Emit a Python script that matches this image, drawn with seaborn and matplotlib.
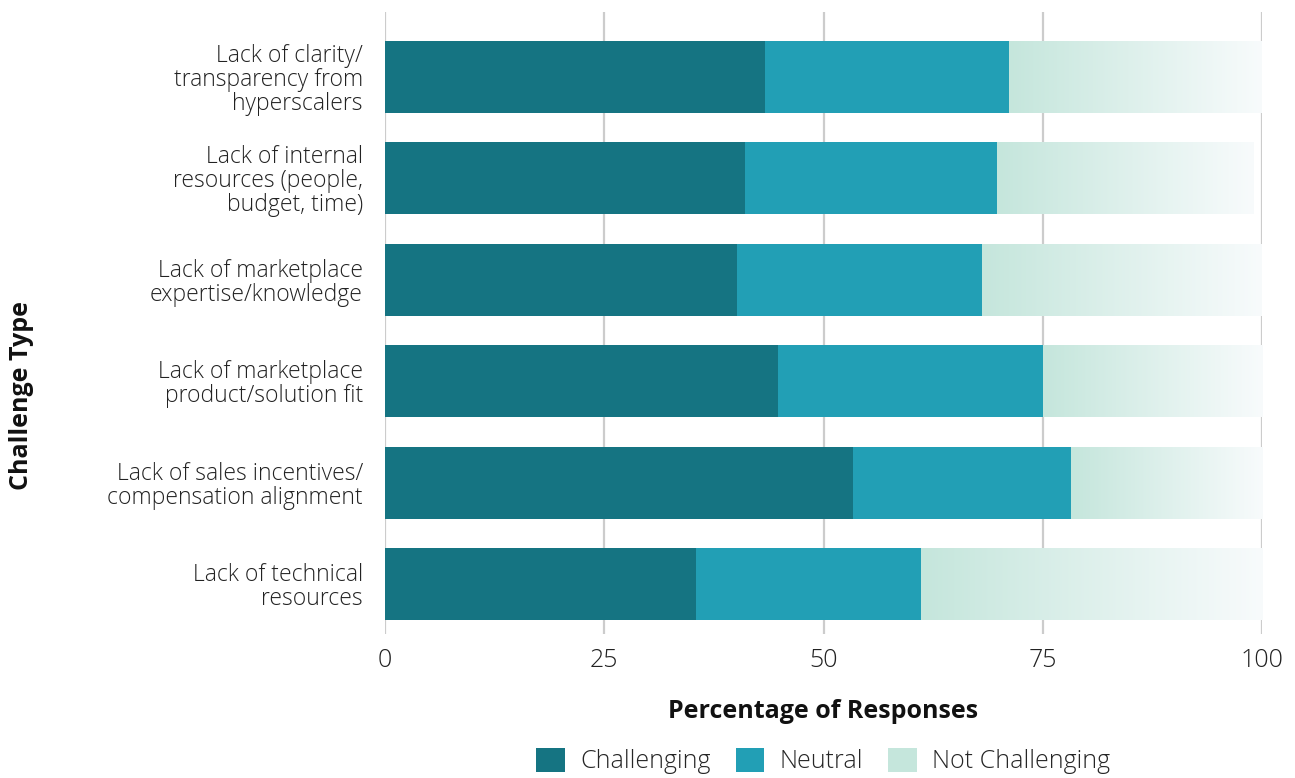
import numpy as np
import pandas as pd
import matplotlib
matplotlib.use("Agg")
import matplotlib.pyplot as plt
import seaborn as sns
from matplotlib.patches import Patch
from matplotlib.colors import LinearSegmentedColormap

categories = [
    "Lack of clarity/\ntransparency from\nhyperscalers",
    "Lack of internal\nresources (people,\nbudget, time)",
    "Lack of marketplace\nexpertise/knowledge",
    "Lack of marketplace\nproduct/solution fit",
    "Lack of sales incentives/\ncompensation alignment",
    "Lack of technical\nresources",
]
challenging = [43.3, 41.0, 40.1, 44.8, 53.4, 35.5]
neutral = [27.9, 28.8, 28.0, 30.2, 24.8, 25.6]
not_challenging = [28.8, 29.2, 31.9, 25.0, 21.8, 38.9]
series = ["Challenging", "Neutral", "Not Challenging"]
xticks = [0, 25, 50, 75, 100]

colors = {"Challenging": "#157482", "Neutral": "#229fb5", "Not Challenging": "#c5e6dc"}

sns.set_theme(style="white")
plt.rcParams["font.family"] = ["Open Sans", "DejaVu Sans"]

df = pd.DataFrame({
    "category": categories,
    "Challenging": challenging,
    "Neutral": neutral,
    "Not Challenging": not_challenging,
})
df["cum_c"] = df["Challenging"]
df["cum_n"] = df["Challenging"] + df["Neutral"]
df["cum_t"] = df["cum_n"] + df["Not Challenging"]

fig = plt.figure(figsize=(12.95, 7.78), dpi=100)
ax = fig.add_axes([385 / 1295, 1 - 634 / 778, (1262 - 385) / 1295, (634 - 12) / 778])

ax.set_axisbelow(True)
for xt in xticks:
    ax.axvline(xt, color="#cccccc", lw=1.6, zorder=0)

bw = 0.71
kw = dict(orient="h", ax=ax, saturation=1, width=bw, linewidth=0, edgecolor="none")
sns.barplot(data=df, y="category", x="cum_t", color=colors["Not Challenging"], zorder=2, **kw)
nc_patches = list(ax.patches)
sns.barplot(data=df, y="category", x="cum_n", color=colors["Neutral"], zorder=3, **kw)
sns.barplot(data=df, y="category", x="cum_c", color=colors["Challenging"], zorder=4, **kw)

# gradient for Not Challenging segments
cmap = LinearSegmentedColormap.from_list("g", ["#c5e6dc", "#f8fbfc"])
grad = np.linspace(0, 1, 256).reshape(1, -1)
for i, p in enumerate(nc_patches):
    y0 = p.get_y()
    h = p.get_height()
    x0 = df["cum_n"].iloc[i]
    x1 = p.get_x() + p.get_width()
    im = ax.imshow(grad, extent=[x0, x1, y0 + h, y0], cmap=cmap, aspect="auto",
                   zorder=2.5, interpolation="bicubic")
    im.set_clip_path(p)

ax.set_xlim(0, 100)
ax.set_ylim(5.49, -0.64)
ax.set_xticks(xticks)
ax.set_xticklabels([str(x) for x in xticks], fontsize=18, fontweight="light", color="#222222")
ax.tick_params(axis="x", length=0, pad=10)
ax.tick_params(axis="y", length=0, pad=16)
for lab in ax.get_yticklabels():
    lab.set_fontsize(16.5)
    lab.set_fontweight("light")
    lab.set_color("#222222")
    lab.set_linespacing(1.0)
for s in ax.spines.values():
    s.set_visible(False)

ax.set_xlabel("")
ax.set_ylabel("")
fig.text(823 / 1295, 1 - 711 / 778, "Percentage of Responses", ha="center", va="center",
         fontsize=18, fontweight="bold", color="#111111")
fig.text(22 / 1295, 1 - 395 / 778, "Challenge Type", ha="center", va="center", rotation=90,
         fontsize=18, fontweight="bold", color="#111111")

handles = [Patch(facecolor=colors[s], edgecolor="none", label=s) for s in series]
fig.legend(handles=handles, loc="center", bbox_to_anchor=(823 / 1295, 1 - 761 / 778),
           ncol=3, frameon=False, handlelength=1.15, handleheight=1.15,
           columnspacing=1.0, handletextpad=0.6, prop={"weight": "light", "size": 18},
           borderpad=0.1)

fig.savefig("out.png", dpi=100)
